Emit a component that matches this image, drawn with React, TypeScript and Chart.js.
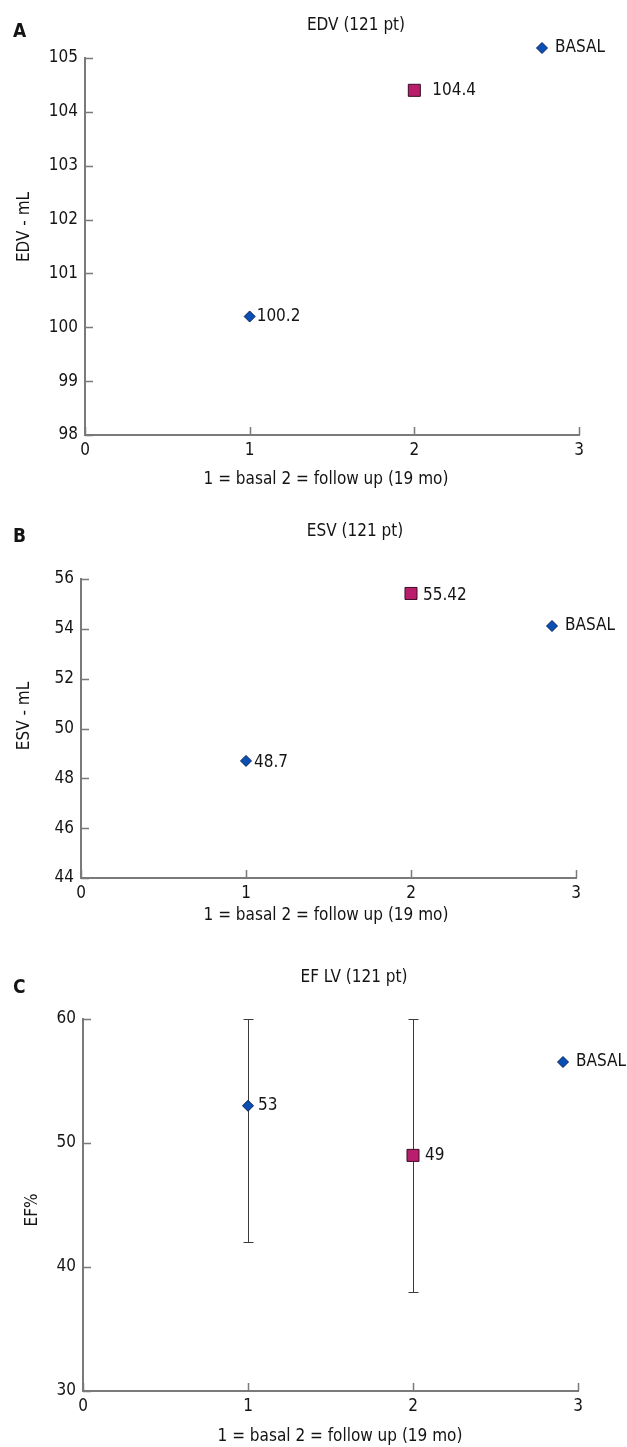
import React, { useEffect, useRef } from 'react';
import { Chart, registerables } from 'chart.js';

Chart.register(...registerables);

// ---------- data ----------
const xCategories = [1, 2]; // 1 = basal, 2 = follow up (19 mo)
const seriesNames = ['BASAL', 'FOLLOW UP'];

const edvValues = [100.2, 104.4];
const edvLabels = ['100.2', '104.4'];
const edvYRange = [98, 105, 1]; // min, max, step

const esvValues = [48.7, 55.42];
const esvLabels = ['48.7', '55.42'];
const esvYRange = [44, 56, 2];

const efValues = [53, 49];
const efLabels = ['53', '49'];
const efErrLow = [42, 38];
const efErrHigh = [60, 60];
const efYRange = [30, 60, 10];

const xRange = [0, 3, 1];

// ---------- styles ----------
const FONT = '"DejaVu Sans Condensed", "DejaVu Sans", sans-serif';
const TEXT = '#141414';
const AXIS = '#7a7a7a';
const BLUE_FILL = '#0a4fb3';
const BLUE_EDGE = '#0b1f5c';
const PINK_FILL = '#b81e6c';
const PINK_EDGE = '#3b0b24';
const FS = 17;

type PanelCfg = {
  top: number;
  height: number;
  plot: { l: number; r: number; t: number; b: number };
  letter: string;
  letterPos: [number, number];
  title: string;
  titlePos: [number, number];
  yTitle: string;
  yTitlePos: [number, number];
  xTitle: string;
  xTitlePos: [number, number];
  legendPos: [number, number];
  values: number[];
  labels: string[];
  labelOffsets: [number, number][];
  yRange: number[];
  errLow?: number[];
  errHigh?: number[];
};

const XT = '1 = basal 2 = follow up (19 mo)';

const panels: PanelCfg[] = [
  {
    top: 0,
    height: 500,
    plot: { l: 85, r: 579, t: 58, b: 435 },
    letter: 'A',
    letterPos: [13, 32],
    title: 'EDV (121 pt)',
    titlePos: [356, 26],
    yTitle: 'EDV - mL',
    yTitlePos: [25, 227],
    xTitle: XT,
    xTitlePos: [326, 480],
    legendPos: [542, 48],
    values: edvValues,
    labels: edvLabels,
    labelOffsets: [[7, 0], [18, 0]],
    yRange: edvYRange,
  },
  {
    top: 500,
    height: 440,
    plot: { l: 81, r: 576, t: 79, b: 378 },
    letter: 'B',
    letterPos: [13, 37],
    title: 'ESV (121 pt)',
    titlePos: [355, 32],
    yTitle: 'ESV - mL',
    yTitlePos: [25, 216],
    xTitle: XT,
    xTitlePos: [326, 416],
    legendPos: [552, 126],
    values: esvValues,
    labels: esvLabels,
    labelOffsets: [[8, 2], [12, 2]],
    yRange: esvYRange,
  },
  {
    top: 940,
    height: 507,
    plot: { l: 83, r: 578, t: 79, b: 451 },
    letter: 'C',
    letterPos: [13, 48],
    title: 'EF LV (121 pt)',
    titlePos: [354, 38],
    yTitle: 'EF%',
    yTitlePos: [33, 270],
    xTitle: XT,
    xTitlePos: [340, 497],
    legendPos: [563, 122],
    values: efValues,
    labels: efLabels,
    labelOffsets: [[10, 0], [12, 0]],
    yRange: efYRange,
    errLow: efErrLow,
    errHigh: efErrHigh,
  },
];

function makePlugin(cfg: PanelCfg) {
  return {
    id: 'annot' + cfg.letter,
    beforeDatasetsDraw(chart: any) {
      if (!cfg.errLow || !cfg.errHigh) return;
      const ctx = chart.ctx;
      const xs = chart.scales.x;
      const ys = chart.scales.y;
      ctx.save();
      ctx.strokeStyle = '#3a3a3a';
      ctx.lineWidth = 1;
      xCategories.forEach((xv, i) => {
        const px = Math.round(xs.getPixelForValue(xv)) + 0.5;
        const lo = Math.max(cfg.errLow![i], ys.min);
        const hi = Math.min(cfg.errHigh![i], ys.max);
        const p1 = Math.round(ys.getPixelForValue(lo)) + 0.5;
        const p2 = Math.round(ys.getPixelForValue(hi)) + 0.5;
        ctx.beginPath();
        ctx.moveTo(px, p1);
        ctx.lineTo(px, p2);
        ctx.moveTo(px - 5, p1);
        ctx.lineTo(px + 5, p1);
        ctx.moveTo(px - 5, p2);
        ctx.lineTo(px + 5, p2);
        ctx.stroke();
      });
      ctx.restore();
    },
    afterDraw(chart: any) {
      const ctx = chart.ctx;
      const xs = chart.scales.x;
      const ys = chart.scales.y;
      const area = chart.chartArea;
      ctx.save();
      // inner tick marks
      ctx.strokeStyle = AXIS;
      ctx.lineWidth = 1.5;
      ctx.beginPath();
      ys.ticks.forEach((t: any) => {
        const py = Math.round(ys.getPixelForValue(t.value)) + 0.5;
        ctx.moveTo(area.left, py);
        ctx.lineTo(area.left + 8, py);
      });
      xs.ticks.forEach((t: any) => {
        const px = Math.round(xs.getPixelForValue(t.value)) + 0.5;
        ctx.moveTo(px, area.bottom);
        ctx.lineTo(px, area.bottom - 8);
      });
      ctx.stroke();

      ctx.fillStyle = TEXT;
      ctx.textBaseline = 'middle';
      // panel letter
      ctx.font = `bold 19px ${FONT}`;
      ctx.textAlign = 'left';
      ctx.fillText(cfg.letter, cfg.letterPos[0], cfg.letterPos[1]);
      // title
      ctx.font = `${FS}px ${FONT}`;
      ctx.textAlign = 'center';
      ctx.fillText(cfg.title, cfg.titlePos[0], cfg.titlePos[1]);
      // x title
      ctx.fillText(cfg.xTitle, cfg.xTitlePos[0], cfg.xTitlePos[1]);
      // y title
      ctx.save();
      ctx.translate(cfg.yTitlePos[0], cfg.yTitlePos[1]);
      ctx.rotate(-Math.PI / 2);
      ctx.fillText(cfg.yTitle, 0, 0);
      ctx.restore();
      // point labels
      ctx.textAlign = 'left';
      xCategories.forEach((xv, i) => {
        const px = xs.getPixelForValue(xv);
        const py = ys.getPixelForValue(cfg.values[i]);
        ctx.fillText(cfg.labels[i], px + cfg.labelOffsets[i][0], py + cfg.labelOffsets[i][1]);
      });
      // legend
      const [lx, ly] = cfg.legendPos;
      const r = 5.5;
      ctx.beginPath();
      ctx.moveTo(lx - r, ly);
      ctx.lineTo(lx, ly - r);
      ctx.lineTo(lx + r, ly);
      ctx.lineTo(lx, ly + r);
      ctx.closePath();
      ctx.fillStyle = BLUE_FILL;
      ctx.fill();
      ctx.strokeStyle = BLUE_EDGE;
      ctx.lineWidth = 1;
      ctx.stroke();
      ctx.fillStyle = TEXT;
      ctx.fillText(seriesNames[0], lx + 13, ly);
      ctx.restore();
    },
  };
}

function Panel({ cfg }: { cfg: PanelCfg }) {
  const ref = useRef<HTMLCanvasElement>(null);
  useEffect(() => {
    const XH = 20;
    const tickFont = { family: FONT, size: FS };
    const chart = new Chart(ref.current as HTMLCanvasElement, {
      type: 'scatter',
      data: {
        datasets: [
          {
            label: seriesNames[0],
            data: [{ x: xCategories[0], y: cfg.values[0] }],
            pointStyle: 'rectRot',
            pointRadius: 5.5,
            backgroundColor: BLUE_FILL,
            borderColor: BLUE_EDGE,
            borderWidth: 1,
          },
          {
            label: seriesNames[1],
            data: [{ x: xCategories[1], y: cfg.values[1] }],
            pointStyle: 'rect',
            pointRadius: 8.5,
            backgroundColor: PINK_FILL,
            borderColor: PINK_EDGE,
            borderWidth: 1,
          },
        ],
      },
      options: {
        responsive: false,
        animation: false,
        events: [],
        layout: {
          padding: {
            left: 0,
            top: cfg.plot.t,
            right: 627 - cfg.plot.r,
            bottom: cfg.height - cfg.plot.b - XH,
          },
        },
        plugins: {
          legend: { display: false },
          tooltip: { enabled: false },
          title: { display: false },
        },
        scales: {
          x: {
            type: 'linear',
            min: xRange[0],
            max: xRange[1],
            ticks: { stepSize: xRange[2], font: tickFont, color: TEXT, padding: 5, maxRotation: 0 },
            grid: { display: true, drawOnChartArea: false, drawTicks: false },
            border: { display: true, color: AXIS, width: 2 },
            afterFit: (s: any) => {
              s.height = XH;
              s.paddingLeft = 0;
              s.paddingRight = 0;
            },
          },
          y: {
            type: 'linear',
            min: cfg.yRange[0],
            max: cfg.yRange[1],
            ticks: { stepSize: cfg.yRange[2], font: tickFont, color: TEXT, padding: 7 },
            grid: { display: true, drawOnChartArea: false, drawTicks: false },
            border: { display: true, color: AXIS, width: 2 },
            afterFit: (s: any) => {
              s.width = cfg.plot.l;
              s.paddingTop = 0;
              s.paddingBottom = 0;
            },
          },
        },
      } as any,
      plugins: [makePlugin(cfg)],
    });
    return () => chart.destroy();
  }, []);
  return (
    <canvas
      ref={ref}
      width={627}
      height={cfg.height}
      style={{ position: 'absolute', left: 0, top: cfg.top, width: 627, height: cfg.height, display: 'block' }}
    />
  );
}

export default function App() {
  return (
    <div style={{ position: 'relative', width: 627, height: 1447, background: '#fff' }}>
      <style>{'body{margin:0;background:#fff;}'}</style>
      {panels.map((p) => (
        <Panel key={p.letter} cfg={p} />
      ))}
    </div>
  );
}
